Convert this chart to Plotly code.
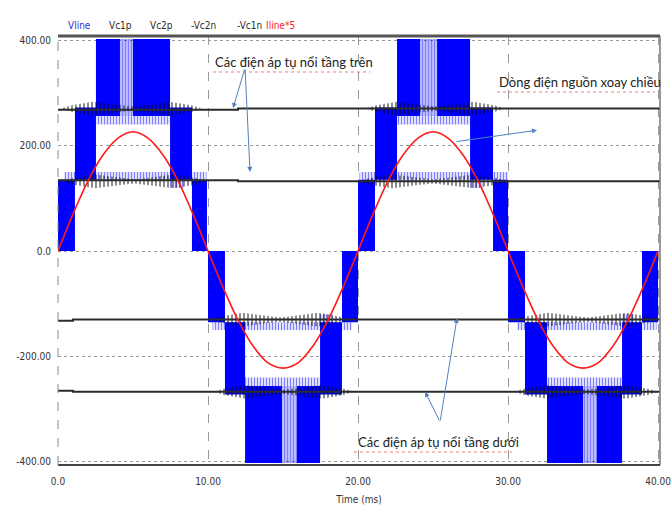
import plotly.graph_objects as go

# ---------------- data ----------------
# Vline (multilevel PWM) drawn as switching bands: time window (ms) and level range (V)
band_t0 = [0.00, 1.13, 2.53, 5.00, 7.47, 8.93,
           10.00, 11.13, 12.47, 15.93, 17.47, 18.93,
           20.00, 21.13, 22.60, 25.27, 27.47, 29.00,
           30.00, 31.13, 32.60, 35.93, 37.60, 38.93]
band_t1 = [1.13, 2.53, 4.13, 7.47, 8.93, 9.93,
           11.13, 12.47, 14.93, 17.47, 18.93, 20.00,
           21.13, 22.60, 24.13, 27.47, 29.00, 30.00,
           31.13, 32.60, 35.00, 37.60, 38.93, 40.00]
band_lo = [0, 135, 256, 256, 135, 0,
           -135, -272, -402, -402, -272, -135,
           0, 135, 256, 256, 135, 0,
           -135, -272, -402, -402, -272, -135]
band_hi = [135, 272, 402, 402, 272, 135,
           0, -135, -256, -256, -135, 0,
           135, 272, 402, 402, 272, 135,
           0, -135, -256, -256, -135, 0]
# dense switching at the peaks (mostly on, thin gaps)
peak_t0 = [4.13, 14.93, 24.13, 35.00]
peak_t1 = [5.00, 15.93, 25.27, 35.93]
peak_lo = [256, -402, 256, -402]
peak_hi = [402, -256, 402, -256]
# sparse switching parts (thin pulses): teeth around the outer levels, band edges
pulse_t0 = [2.53, 12.47, 22.60, 32.60,
            0.4, 10.3, 20.1, 30.6,
            7.47, 17.47, 27.47, 37.60]
pulse_t1 = [7.47, 17.47, 27.47, 37.60,
            9.9, 19.6, 30.0, 39.9,
            8.40, 18.30, 28.30, 38.40]
pulse_lo = [240, -256, 240, -256,
            135, -150, 135, -150,
            120, -150, 120, -150]
pulse_hi = [256, -240, 256, -240,
            150, -135, 150, -135,
            135, -120, 135, -120]

# capacitor voltages (V) with small steps
vc1p_t = [0, 12.0, 40.13];   vc1p_v = [268, 270, 270]
vc2p_t = [0, 12.0, 40.13];   vc2p_v = [134, 132, 132]
vc2n_t = [0, 1.0, 40.13];    vc2n_v = [-132, -130, -130]
vc1n_t = [0, 1.0, 40.13];    vc1n_v = [-265, -267, -267]

# ripple windows (start ms, end ms) per capacitor voltage
rip_vc1p = [(0.3, 9.5), (20.6, 29.7)]
rip_vc2p = [(0.4, 9.8), (20.1, 29.9)]
rip_vc2n = [(10.3, 19.3), (30.6, 39.9)]
rip_vc1n = [(10.5, 19.6), (30.5, 39.9)]
# ripple envelope shape (fraction of window, half-amplitude V)
rip_pos = [0.0, 0.06, 0.22, 0.40, 0.50, 0.60, 0.78, 0.94, 1.0]
rip_amp = [1, 6, 13, 7, 4, 7, 13, 6, 1]

# Iline*5 (V) read every 1 ms
i_t = list(range(0, 41))
i_v = [0, 70, 133, 182, 214, 226, 214, 182, 133, 70,
       0, -69, -131, -180, -212, -222, -212, -180, -131, -69,
       0, 70, 133, 182, 214, 226, 214, 182, 133, 70,
       0, -69, -131, -180, -212, -222, -212, -180, -131, -69, 0]

legend_names = ["Vline", "Vc1p", "Vc2p", "-Vc2n", "-Vc1n", "Iline*5"]
x_ticks = [0, 10, 20, 30, 40]
x_ticktext = ["0.0", "10.00", "20.00", "30.00", "40.00"]
y_ticks = [-400, -200, 0, 200, 400]
y_ticktext = ["-400.00", "-200.00", "0.0", "200.00", "400.00"]

# ---------------- figure ----------------
BLUE = "#0000ff"
DARK = "#2b2b2b"
RED = "#ff1a1a"
FONT = "DejaVu Sans Condensed, Liberation Sans, sans-serif"
NOTE_FONT = "Lato, Liberation Sans, sans-serif"
CLEAR = "rgba(255,255,255,0)"


def poly(t0, t1, lo, hi):
    xs, ys = [], []
    for a, b, l, h in zip(t0, t1, lo, hi):
        xs += [a, b, b, a, a, None]
        ys += [l, l, h, h, l, None]
    return xs, ys


fig = go.Figure()
xs, ys = poly(band_t0, band_t1, band_lo, band_hi)
fig.add_trace(go.Scatter(x=xs, y=ys, fill="toself", fillcolor=BLUE, mode="lines",
                         line=dict(width=0, color=BLUE), hoverinfo="skip", name="Vline"))
xs, ys = poly(peak_t0, peak_t1, peak_lo, peak_hi)
fig.add_trace(go.Scatter(x=xs, y=ys, fill="toself", fillcolor=CLEAR, mode="lines",
                         fillpattern=dict(shape="|", fgcolor=BLUE, bgcolor=CLEAR,
                                          size=3, solidity=0.7),
                         line=dict(width=0, color=BLUE), hoverinfo="skip", showlegend=False))
xs, ys = poly(pulse_t0, pulse_t1, pulse_lo, pulse_hi)
fig.add_trace(go.Scatter(x=xs, y=ys, fill="toself", fillcolor=CLEAR, mode="lines",
                         fillpattern=dict(shape="|", fgcolor=BLUE, bgcolor=CLEAR,
                                          size=3, solidity=0.5),
                         line=dict(width=0, color=BLUE), hoverinfo="skip", showlegend=False))

for name, tt, vv, wins in [("Vc1p", vc1p_t, vc1p_v, rip_vc1p),
                           ("Vc2p", vc2p_t, vc2p_v, rip_vc2p),
                           ("-Vc2n", vc2n_t, vc2n_v, rip_vc2n),
                           ("-Vc1n", vc1n_t, vc1n_v, rip_vc1n)]:
    rx, ry = [], []
    base = vv[-1]
    for (s, e) in wins:
        up_x = [s + p * (e - s) for p in rip_pos]
        rx += up_x + up_x[::-1] + [None]
        ry += [base + a for a in rip_amp] + [base - a for a in rip_amp[::-1]] + [None]
    fig.add_trace(go.Scatter(x=rx, y=ry, fill="toself", fillcolor=CLEAR, mode="lines",
                             fillpattern=dict(shape="|", fgcolor="#000000", bgcolor=CLEAR,
                                              size=4, solidity=0.45),
                             line=dict(width=0, color="#222"),
                             hoverinfo="skip", showlegend=False))
    fig.add_trace(go.Scatter(x=tt, y=vv, mode="lines", line=dict(color=DARK, width=2, shape="hv"),
                             name=name, hoverinfo="skip"))

fig.add_trace(go.Scatter(x=i_t, y=i_v, mode="lines", line=dict(color=RED, width=1.6, shape="spline"),
                         name="Iline*5", hoverinfo="skip"))

# geometry helpers (pixel -> paper)
L, R, T, B = 58, 12, 36, 41
W, H = 672, 506
PW, PH = W - L - R, H - T - B


def px(x):
    return (x - L) / PW


def py(y):
    return (H - B - y) / PH


annotations = []
leg_x = [66, 107, 148, 189, 235, 280]
leg_col = ["#3030d0", DARK, DARK, DARK, DARK, RED]
for nm, x, c in zip(legend_names, leg_x, leg_col):
    annotations.append(dict(text=nm, x=px(x), y=py(18), xref="paper", yref="paper",
                            showarrow=False, font=dict(family=FONT, size=10, color=c)))

TXT = dict(family=NOTE_FONT, size=13, color="#222")
annotations += [
    dict(text="Các điện áp tụ nổi tầng trên", x=15.7, y=358, showarrow=False, font=TXT),
    dict(text="Dòng điện nguồn xoay chiều", x=34.8, y=320, showarrow=False, font=TXT),
    dict(text="Các điện áp tụ nổi tầng dưới", x=25.35, y=-362, showarrow=False, font=TXT),
]
ARW = "#4f81bd"
for (hx, hy, tx, ty) in [(11.67, 271, 12.47, 347), (12.8, 150, 12.47, 347),
                         (31.93, 229, 26.47, 207),
                         (26.6, -127, 25.47, -324), (24.47, -267, 25.47, -324)]:
    annotations.append(dict(text="", x=hx, y=hy, ax=tx, ay=ty, xref="x", yref="y",
                            axref="x", ayref="y", showarrow=True, arrowhead=2,
                            arrowsize=1, arrowwidth=1, arrowcolor=ARW))

shapes = [
    dict(type="line", xref="paper", yref="paper", x0=0, x1=1, y0=1, y1=1,
         line=dict(color="#555", width=3)),
    dict(type="line", xref="paper", yref="paper", x0=1, x1=1, y0=0, y1=1,
         line=dict(color="#777", width=1.5)),
    dict(type="line", xref="paper", yref="paper", x0=0, x1=1, y0=0, y1=0,
         line=dict(color="#444", width=2)),
    dict(type="line", xref="paper", yref="paper", x0=0, x1=0, y0=0, y1=1,
         line=dict(color="#888", width=1, dash="dash")),
]
# spell-check style red underlines beneath the notes (pixel spans)
for (x0, x1, y) in [(213, 370, 72), (497, 655, 92), (354, 512, 452)]:
    shapes.append(dict(type="line", xref="paper", yref="paper",
                       x0=px(x0), x1=px(x1), y0=py(y), y1=py(y),
                       line=dict(color="rgba(230,40,40,0.6)", width=1, dash="dot")))

fig.update_layout(
    width=W, height=H,
    margin=dict(l=L, r=R, t=T, b=B, autoexpand=False),
    paper_bgcolor="white", plot_bgcolor="white",
    showlegend=False,
    annotations=annotations, shapes=shapes,
    font=dict(family=FONT, size=10, color="#333"),
    xaxis=dict(range=[0, 40.13], tickvals=x_ticks, ticktext=x_ticktext, automargin=False,
               showgrid=True, gridcolor="#999", griddash="dash", gridwidth=1,
               zeroline=False, showline=False, ticks="", ticklabelstandoff=9,
               title=dict(text="Time (ms)", font=dict(size=10), standoff=9)),
    yaxis=dict(range=[-405.7, 407.6], tickvals=y_ticks, ticktext=y_ticktext, automargin=False,
               showgrid=True, gridcolor="#999", griddash="dot", gridwidth=1,
               zeroline=False, showline=False, ticks="", ticklabelstandoff=6),
)

fig.write_html("out.html")
